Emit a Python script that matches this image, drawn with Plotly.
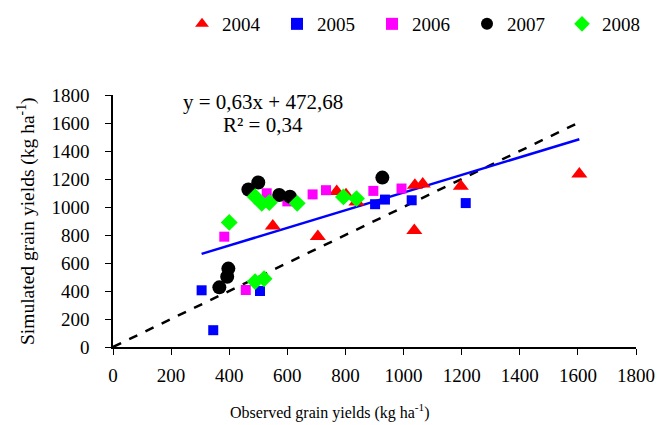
import plotly.graph_objects as go

# Observed (x) and simulated (y) grain yields, kg/ha
obs_2004 = [550, 705, 770, 802, 838, 1039, 1037, 1066, 1197, 1605]
sim_2004 = [865, 790, 1110, 1088, 1035, 1155, 833, 1165, 1148, 1235]

obs_2005 = [305, 345, 506, 902, 936, 1028, 1214]
sim_2005 = [405, 120, 400, 1020, 1053, 1048, 1028]

obs_2006 = [383, 457, 529, 600, 687, 733, 896, 993]
sim_2006 = [788, 407, 1098, 1040, 1090, 1120, 1115, 1132]

obs_2007 = [366, 393, 397, 466, 500, 572, 609, 927]
sim_2007 = [426, 502, 560, 1125, 1175, 1086, 1074, 1210]

obs_2008 = [400, 489, 520, 489, 512, 538, 634, 793, 838]
sim_2008 = [890, 467, 488, 1074, 1026, 1032, 1026, 1072, 1060]

years = ["2004", "2005", "2006", "2007", "2008"]
reg_slope = 0.63
reg_intercept = 472.68
reg_x = [305, 1605]
one_to_one = [0, 1610]
eq_text = "y = 0,63x + 472,68"
r2_text = "R² = 0,34"
x_title = "Observed grain yields (kg ha<sup>-1</sup>)"
y_title = "Simulated grain yields (kg ha<sup>-1</sup>)"

series = [
    (years[0], obs_2004, sim_2004, "triangle-up", "#ff0000", 14),
    (years[1], obs_2005, sim_2005, "square", "#0000ff", 10),
    (years[2], obs_2006, sim_2006, "square", "#ff00ff", 10),
    (years[3], obs_2007, sim_2007, "circle", "#000000", 14),
    (years[4], obs_2008, sim_2008, "diamond", "#00ff00", 13),
]
# legend text start pixels in the reference
legend_text_px = [220, 315, 410, 505, 600]

font = "Liberation Serif, Times New Roman, serif"
FS = 19
fig = go.Figure()

fig.add_trace(go.Scatter(x=one_to_one, y=one_to_one, mode="lines",
                         line=dict(color="black", width=2.5, dash="dash"),
                         showlegend=False, hoverinfo="skip"))
fig.add_trace(go.Scatter(x=reg_x, y=[reg_slope * v + reg_intercept for v in reg_x],
                         mode="lines", line=dict(color="#0000ff", width=2.5),
                         showlegend=False, hoverinfo="skip"))

l, t, pw, ph = 113, 95, 523, 252


def px_x(p):
    return (p - l) / pw


def px_y(p):
    return 1 - (p - t) / ph


legends = {}
for i, (name, xs, ys, sym, col, sz) in enumerate(series):
    lname = "legend" if i == 0 else f"legend{i + 1}"
    fig.add_trace(go.Scatter(x=xs, y=ys, mode="markers", name=name, legend=lname,
                             marker=dict(symbol=sym, color=col, size=sz,
                                         line=dict(width=0))))
    legends[lname] = dict(x=px_x(legend_text_px[i] - 38), y=px_y(24),
                          xanchor="left", yanchor="middle", orientation="h",
                          font=dict(family=font, size=FS), itemwidth=30,
                          itemsizing="constant", bgcolor="rgba(0,0,0,0)")

axis_common = dict(range=[0, 1800], dtick=200, showgrid=False, zeroline=False,
                   showline=True, linecolor="black", linewidth=1.5,
                   ticks="outside", ticklen=6, tickcolor="black", tickwidth=1.2,
                   tickfont=dict(family=font, size=FS, color="black"),
                   automargin=False)

txt = dict(xref="paper", yref="paper", showarrow=False,
           xanchor="center", yanchor="middle")

fig.update_layout(
    width=658, height=425,
    margin=dict(l=l, r=658 - l - pw, t=t, b=425 - t - ph, autoexpand=False),
    paper_bgcolor="white", plot_bgcolor="white",
    font=dict(family=font, size=FS, color="black"),
    xaxis=dict(**axis_common, ticklabelstandoff=4),
    yaxis=dict(**axis_common, ticklabelstandoff=12),
    annotations=[
        dict(text=eq_text, x=px_x(263), y=px_y(102),
             font=dict(family=font, size=21), **txt),
        dict(text=r2_text, x=px_x(263), y=px_y(125),
             font=dict(family=font, size=21), **txt),
        dict(text=x_title, x=px_x(330), y=px_y(411),
             font=dict(family=font, size=16), **txt),
        dict(text=y_title, x=px_x(26), y=px_y(221), textangle=-90,
             font=dict(family=font, size=19.5), **txt),
    ],
    **legends,
)

fig.write_html("out.html",
               config={"displayModeBar": False},
               post_script="document.body.style.margin='0';"
                           "document.body.style.overflow='hidden';")
